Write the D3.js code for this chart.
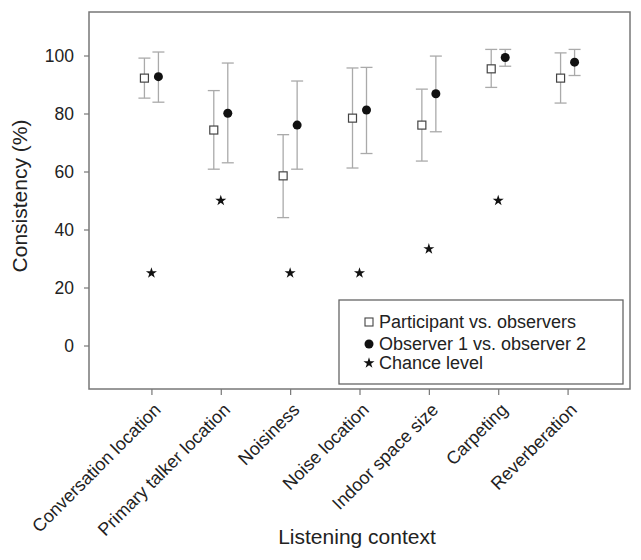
<!DOCTYPE html>
<html>
<head>
<meta charset="utf-8">
<script src="https://cdn.jsdelivr.net/npm/d3@7"></script>
<style>
  body { margin: 0; background: #fff; }
  text { font-family: "Liberation Sans", Arial, sans-serif; fill: #222; }
</style>
</head>
<body>
<div id="chart"></div>
<script>
const categories = ['Conversation location', 'Primary talker location', 'Noisiness', 'Noise location', 'Indoor space size', 'Carpeting', 'Reverberation']
// participant vs observers
const part_mean = [92.2, 74.3, 58.5, 78.4, 76.0, 95.4, 92.2]
const part_lo = [85.3, 60.8, 44.1, 61.2, 63.6, 89.0, 83.6]
const part_hi = [99.1, 87.9, 72.7, 95.7, 88.4, 102.1, 100.9]
// observer 1 vs observer 2
const obs_mean = [92.7, 80.1, 76.0, 81.2, 86.8, 99.3, 97.7]
const obs_lo = [83.9, 63.0, 60.8, 66.2, 73.7, 96.3, 93.1]
const obs_hi = [101.2, 97.4, 91.2, 95.9, 99.8, 102.1, 102.1]
// chance level (none for reverberation)
const chance = [25, 50, 25, 25, 33.3, 50, null]
const y_ticks = [0, 20, 40, 60, 80, 100]

const W = 641, H = 560
const m_left = 89, m_right = 630, m_top = 12, m_bottom = 389

const svg = d3.select('#chart').append('svg')
    .attr('width', W)
    .attr('height', H)

const x = d3.scaleLinear().domain([-0.9, 6.9]).range([m_left, m_right])
const y = d3.scaleLinear().domain([-15, 115]).range([m_bottom, m_top])

// frame
svg.append('rect')
    .attr('x', m_left).attr('y', m_top)
    .attr('width', m_right - m_left).attr('height', m_bottom - m_top)
    .attr('fill', 'none').attr('stroke', '#777').attr('stroke-width', 1.5)

// y axis
const yAxis = svg.append('g')
    .attr('transform', `translate(${m_left},0)`)
    .call(d3.axisLeft(y).tickValues(y_ticks).tickSize(5).tickPadding(10))
yAxis.select('.domain').remove()
yAxis.selectAll('line').attr('stroke', '#777').attr('stroke-width', 1.2)
yAxis.selectAll('text').style('font-size', '17.5px').attr('fill', '#222')

// x axis
const xAxis = svg.append('g')
    .attr('transform', `translate(0,${m_bottom})`)
    .call(d3.axisBottom(x).tickValues(d3.range(categories.length)).tickSize(6).tickFormat(i => categories[i]))
xAxis.select('.domain').remove()
xAxis.selectAll('line').attr('stroke', '#777').attr('stroke-width', 1.2)
xAxis.selectAll('text')
    .style('font-size', '18px')
    .attr('fill', '#222')
    .attr('text-anchor', 'end')
    .attr('dy', null)
    .attr('y', 0)
    .attr('transform', 'translate(10,22) rotate(-45)')

// axis titles
svg.append('text')
    .attr('x', 357).attr('y', 544)
    .attr('text-anchor', 'middle')
    .style('font-size', '21px')
    .text('Listening context')

svg.append('text')
    .attr('transform', `translate(27,196) rotate(-90)`)
    .attr('text-anchor', 'middle')
    .style('font-size', '21px')
    .text('Consistency (%)')

const off = 7, cap = 6
const err_color = '#aaa'

const drawErr = (mean, lo, hi, dx) => {
    const g = svg.append('g')
    categories.forEach((c, i) => {
        const cx = x(i) + dx
        g.append('line').attr('x1', cx).attr('x2', cx).attr('y1', y(lo[i])).attr('y2', y(hi[i]))
        g.append('line').attr('x1', cx - cap).attr('x2', cx + cap).attr('y1', y(lo[i])).attr('y2', y(lo[i]))
        g.append('line').attr('x1', cx - cap).attr('x2', cx + cap).attr('y1', y(hi[i])).attr('y2', y(hi[i]))
    })
    g.selectAll('line').attr('stroke', err_color).attr('stroke-width', 1.3)
}
drawErr(part_mean, part_lo, part_hi, -off)
drawErr(obs_mean, obs_lo, obs_hi, off)

const sq = 8
svg.append('g').selectAll('rect')
    .data(part_mean)
    .enter()
    .append('rect')
        .attr('x', (d, i) => x(i) - off - sq / 2)
        .attr('y', d => y(d) - sq / 2)
        .attr('width', sq).attr('height', sq)
        .attr('fill', '#fff').attr('stroke', '#444').attr('stroke-width', 1.2)

svg.append('g').selectAll('circle')
    .data(obs_mean)
    .enter()
    .append('circle')
        .attr('cx', (d, i) => x(i) + off)
        .attr('cy', d => y(d))
        .attr('r', 4.5)
        .attr('fill', '#111')

const star = d3.symbol().type(d3.symbolStar).size(38)
svg.append('g').selectAll('path')
    .data(chance.map((v, i) => ({ v, i })).filter(d => d.v != null))
    .enter()
    .append('path')
        .attr('d', star)
        .attr('transform', d => `translate(${x(d.i)},${y(d.v)})`)
        .attr('fill', '#111')

// legend
const lg = svg.append('g')
lg.append('rect')
    .attr('x', 339).attr('y', 300)
    .attr('width', 284).attr('height', 84)
    .attr('fill', '#fff').attr('stroke', '#666').attr('stroke-width', 1.3)
const lx = 369
lg.append('rect').attr('x', lx - 4).attr('y', 322 - 4).attr('width', 8).attr('height', 8)
    .attr('fill', '#fff').attr('stroke', '#444').attr('stroke-width', 1.1)
lg.append('circle').attr('cx', lx).attr('cy', 344).attr('r', 4.5).attr('fill', '#111')
lg.append('path').attr('d', star).attr('transform', `translate(${lx},363)`).attr('fill', '#111')
const legend_labels = ['Participant vs. observers', 'Observer 1 vs. observer 2', 'Chance level']
lg.selectAll('.lt')
    .data(legend_labels)
    .enter()
    .append('text')
        .attr('x', 379)
        .attr('y', (d, i) => [322, 344, 363][i])
        .attr('dy', '0.35em')
        .style('font-size', '18px')
        .text(d => d)
</script>
</body>
</html>
